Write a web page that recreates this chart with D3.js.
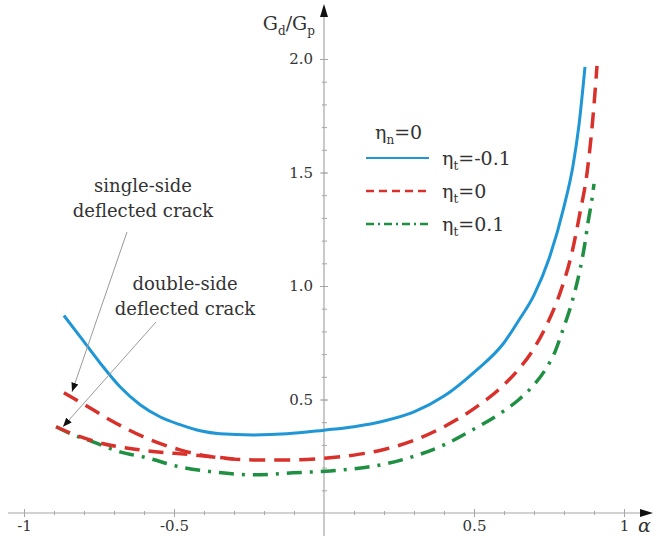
<!DOCTYPE html>
<html><head><meta charset="utf-8">
<script src="https://cdn.jsdelivr.net/npm/d3@7/dist/d3.min.js"></script>
<style>body{margin:0;background:#fff} svg{display:block} text{font-family:"DejaVu Serif","Liberation Serif",serif;}</style>
</head><body>
<svg id="c" width="654" height="536"></svg>
<script>
// ---- data ----
const xMajorTicks = [-1, -0.5, 0.5, 1];
const xMajorLabels = ["-1", "-0.5", "0.5", "1"];
const yMajorTicks = [0.5, 1.0, 1.5, 2.0];
const yMajorLabels = ["0.5", "1.0", "1.5", "2.0"];

const alphaBlue = [-0.867,-0.813,-0.747,-0.68,-0.613,-0.547,-0.48,-0.413,-0.347,-0.237,-0.123,0.0,0.1,0.2,0.3,0.4,0.5,0.6,0.65,0.7,0.75,0.8,0.83,0.85,0.87];
const valBlue   = [0.87,0.777,0.662,0.556,0.477,0.424,0.389,0.362,0.349,0.344,0.349,0.365,0.38,0.405,0.445,0.515,0.62,0.75,0.85,0.96,1.12,1.35,1.53,1.71,1.965];

const alphaRedSingle = [-0.867,-0.803,-0.713,-0.603,-0.48,-0.37,-0.237,-0.103,0.02,0.1,0.2,0.3,0.4,0.5,0.6,0.65,0.7,0.75,0.787,0.827,0.853,0.877,0.897,0.91];
const valRedSingle   = [0.53,0.481,0.41,0.336,0.278,0.247,0.234,0.234,0.243,0.255,0.28,0.32,0.38,0.46,0.565,0.635,0.725,0.85,0.97,1.15,1.32,1.5,1.75,1.97];

const alphaRedDouble = [-0.893,-0.813,-0.747,-0.613,-0.437,-0.3];
const valRedDouble   = [0.38,0.336,0.309,0.278,0.256,0.238];

const alphaGreen = [-0.893,-0.86,-0.77,-0.68,-0.59,-0.48,-0.37,-0.237,-0.103,0.02,0.1,0.2,0.3,0.4,0.5,0.6,0.65,0.7,0.737,0.77,0.797,0.82,0.837,0.853,0.87,0.88,0.893,0.9];
const valGreen   = [0.38,0.358,0.313,0.269,0.243,0.203,0.181,0.168,0.177,0.185,0.195,0.215,0.25,0.3,0.37,0.45,0.5,0.565,0.63,0.71,0.81,0.9,0.98,1.07,1.19,1.28,1.38,1.45];

const legendTitle = {main:"η", sub:"n", rest:"=0"};
const legendLabels = ["=-0.1", "=0", "=0.1"];
const annotSingle = ["single-side", "deflected crack"];
const annotDouble = ["double-side", "deflected crack"];
const arrowTipSingle = [-0.84, 0.534];
const arrowTipDouble = [-0.87, 0.38];

// ---- setup ----
const svg = d3.select("#c");
const x = d3.scaleLinear().domain([-1, 1]).range([24, 624]);
const y = d3.scaleLinear().domain([0, 2]).range([513, 59]);
const axisCol = "#a6a6a6", textCol = "#333";

const defs = svg.append("defs");
defs.append("marker").attr("id","ah").attr("viewBox","0 0 10 10").attr("refX",10).attr("refY",5)
  .attr("markerWidth",9).attr("markerHeight",9).attr("orient","auto").attr("markerUnits","userSpaceOnUse")
  .append("path").attr("d","M0,1 L10,5 L0,9 Z").attr("fill","#111");

// x axis minor ticks
const xMinor = d3.range(-10, 11).map(d => d / 10).filter(d => Math.abs(d) > 1e-9);
const gxm = svg.append("g").attr("transform", `translate(0,${y(0)})`)
  .call(d3.axisBottom(x).tickValues(xMinor).tickSize(2).tickFormat(""));
gxm.select(".domain").remove();
gxm.selectAll(".tick line").attr("y1", -2).attr("stroke", axisCol);
const gxM = svg.append("g").attr("transform", `translate(0,${y(0)})`)
  .call(d3.axisBottom(x).tickValues(xMajorTicks).tickSize(4).tickPadding(5)
    .tickFormat((d, i) => xMajorLabels[i]));
gxM.select(".domain").remove();
gxM.selectAll(".tick line").attr("y1", -4).attr("stroke", axisCol);
gxM.selectAll(".tick text").attr("font-size", 15).attr("fill", textCol)
  .attr("dy", "0").attr("y", 18);

// y axis
const yMinor = d3.range(1, 21).map(d => d / 10);
const gym = svg.append("g").attr("transform", `translate(${x(0)},0)`)
  .call(d3.axisLeft(y).tickValues(yMinor).tickSize(2).tickFormat(""));
gym.select(".domain").remove();
gym.selectAll(".tick line").attr("x1", 3).attr("stroke", axisCol);
const gyM = svg.append("g").attr("transform", `translate(${x(0)},0)`)
  .call(d3.axisLeft(y).tickValues(yMajorTicks).tickSize(4).tickPadding(7)
    .tickFormat((d, i) => yMajorLabels[i]));
gyM.select(".domain").remove();
gyM.selectAll(".tick line").attr("x1", 4).attr("stroke", axisCol);
gyM.selectAll(".tick text").attr("font-size", 15).attr("fill", textCol);

// axis lines
svg.append("line").attr("x1", 8).attr("x2", 642).attr("y1", y(0)).attr("y2", y(0)).attr("stroke", axisCol).attr("stroke-width", 1.2);
svg.append("path").attr("d", `M653,${y(0)} L640,${y(0)-4} L640,${y(0)+4} Z`).attr("fill", "#111");
svg.append("line").attr("x1", x(0)).attr("x2", x(0)).attr("y1", 536).attr("y2", 16).attr("stroke", axisCol).attr("stroke-width", 1.2);
svg.append("path").attr("d", `M${x(0)},4 L${x(0)-4},17 L${x(0)+4},17 Z`).attr("fill", "#111");

// axis titles
const yt = svg.append("text").attr("x", 315).attr("y", 30).attr("text-anchor", "end")
  .attr("font-size", 19).attr("fill", textCol);
yt.append("tspan").text("G");
yt.append("tspan").attr("font-size", 12).attr("dy", 5).text("d");
yt.append("tspan").attr("dy", -5).text("/G");
yt.append("tspan").attr("font-size", 12).attr("dy", 5).text("p");
svg.append("text").attr("x", 638).attr("y", 532).attr("font-style", "italic")
  .attr("font-size", 19).attr("fill", textCol).text("α");

// curves
const line = d3.line().x(d => x(d[0])).y(d => y(d[1])).curve(d3.curveMonotoneX);
const zip = (a, b) => a.map((v, i) => [v, b[i]]);
const blue = "#1f96d6", red = "#d8312b", green = "#1f8f42";

svg.append("path").datum(zip(alphaGreen, valGreen)).attr("d", line).attr("fill", "none")
  .attr("stroke", green).attr("stroke-width", 3.5).attr("stroke-dasharray", "15,8,3,8");
svg.append("path").datum(zip(alphaRedDouble, valRedDouble)).attr("d", line).attr("fill", "none")
  .attr("stroke", red).attr("stroke-width", 3.5).attr("stroke-dasharray", "15,9");
svg.append("path").datum(zip(alphaRedSingle, valRedSingle)).attr("d", line).attr("fill", "none")
  .attr("stroke", red).attr("stroke-width", 3.5).attr("stroke-dasharray", "16,9");
svg.append("path").datum(zip(alphaBlue, valBlue)).attr("d", line).attr("fill", "none")
  .attr("stroke", blue).attr("stroke-width", 3);

// legend
const lt = svg.append("text").attr("x", 375).attr("y", 139)
  .attr("font-size", 19).attr("fill", textCol);
lt.append("tspan").text(legendTitle.main);
lt.append("tspan").attr("font-size", 12).attr("dy", 5).text(legendTitle.sub);
lt.append("tspan").attr("dy", -5).text(legendTitle.rest);

const legendStyles = [
  {c: blue, w: 2.2, dash: null},
  {c: red, w: 2.6, dash: "8,5"},
  {c: green, w: 2.6, dash: "8,4,2,4"}
];
const rowY = [158, 191, 224];
legendStyles.forEach((s, i) => {
  const ln = svg.append("line").attr("x1", 366).attr("x2", 429).attr("y1", rowY[i]).attr("y2", rowY[i])
    .attr("stroke", s.c).attr("stroke-width", s.w);
  if (s.dash) ln.attr("stroke-dasharray", s.dash);
  const t = svg.append("text").attr("x", 442).attr("y", rowY[i] + 7)
    .attr("font-size", 19).attr("fill", textCol);
  t.append("tspan").text("η");
  t.append("tspan").attr("font-size", 12).attr("dy", 5).text("t");
  t.append("tspan").attr("dy", -5).text(legendLabels[i]);
});

// annotations
function annot(lines, cx, y0) {
  lines.forEach((s, i) => svg.append("text").attr("x", cx).attr("y", y0 + i * 25).attr("text-anchor", "middle")
    .attr("font-size", 18).attr("fill", textCol).text(s));
}
annot(annotSingle, 143, 192);
annot(annotDouble, 185, 290);
svg.append("line").attr("x1", 127).attr("y1", 232).attr("x2", x(arrowTipSingle[0])).attr("y2", y(arrowTipSingle[1]))
  .attr("stroke", "#9a9a9a").attr("stroke-width", 1).attr("marker-end", "url(#ah)");
svg.append("line").attr("x1", 156).attr("y1", 322).attr("x2", x(arrowTipDouble[0])).attr("y2", y(arrowTipDouble[1]))
  .attr("stroke", "#9a9a9a").attr("stroke-width", 1).attr("marker-end", "url(#ah)");
</script>
</body></html>
